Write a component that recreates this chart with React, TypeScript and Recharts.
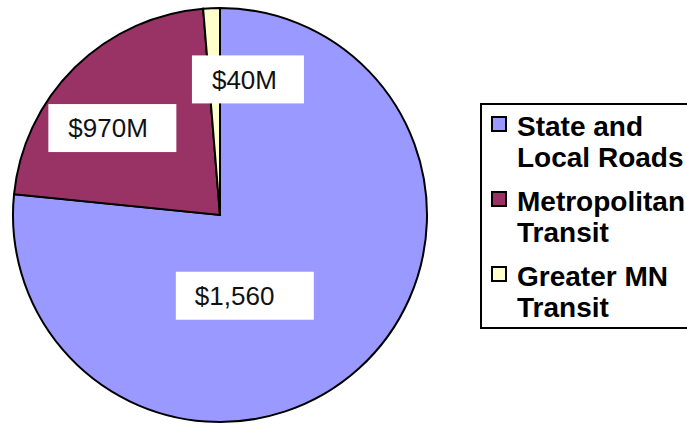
import React from "react";
import { PieChart, Pie, Cell, Legend } from "recharts";

// Categories and values (slice shares, % of total)
const categories = ["State and Local Roads", "Metropolitan Transit", "Greater MN Transit"];
const sliceShare = [76.6, 22.1, 1.3];
const valueLabels = ["$1,560", "$970M", "$40M"];

// styles (kept apart from data)
const colors = ["#9999FF", "#993366", "#FFFFCC"];
// label box centre offsets, in units of the pie radius
const labelOffsets = [
  { dx: 0.12, dy: 0.39, w: 138, textLeft: 19 },
  { dx: -0.52, dy: -0.42, w: 128, textLeft: 20 },
  { dx: 0.135, dy: -0.655, w: 112, textLeft: 20 },
];

const data = categories.map((name, i) => ({ name, value: sliceShare[i], label: valueLabels[i] }));

const renderLabel = (props: any) => {
  const { cx, cy, outerRadius, index } = props;
  const o = labelOffsets[index];
  const bx = cx + o.dx * outerRadius;
  const by = cy + o.dy * outerRadius;
  const h = 48;
  return (
    <g key={`lbl-${index}`}>
      <rect x={bx - o.w / 2} y={by - h / 2} width={o.w} height={h} fill="#FFFFFF" />
      <text
        x={bx - o.w / 2 + o.textLeft}
        y={by}
        dy="0.35em"
        fill="#111"
        fontSize={26}
        fontFamily="'Liberation Sans', Arial, sans-serif"
        textAnchor="start"
      >
        {valueLabels[index]}
      </text>
    </g>
  );
};

const LegendContent = () => (
  <div
    style={{
      border: "2px solid #000",
      background: "#fff",
      width: 240,
      boxSizing: "border-box",
      padding: "6px 0 4px 9px",
      fontFamily: "'Liberation Sans', Arial, sans-serif",
      fontWeight: "bold",
      fontSize: 28,
      lineHeight: "31px",
      color: "#000",
    }}
  >
    {categories.map((c, i) => (
      <div key={c} style={{ display: "flex", alignItems: "flex-start", marginTop: i === 0 ? 0 : 13 }}>
        <div
          style={{
            width: 16,
            height: 16,
            boxSizing: "border-box",
            border: "2px solid #000",
            background: colors[i],
            marginTop: 5,
            marginRight: 10,
            flex: "0 0 auto",
          }}
        />
        <div style={{ width: 172 }}>{c}</div>
      </div>
    ))}
  </div>
);

export default function App() {
  return (
    <div style={{ position: "absolute", left: 0, top: 0, width: 687, height: 425, overflow: "hidden", background: "#fff" }}>
      <PieChart width={687} height={425} margin={{ top: 0, right: 0, bottom: 0, left: 0 }}>
        <Pie
          data={data}
          dataKey="value"
          nameKey="name"
          cx={220}
          cy={215}
          outerRadius={207}
          startAngle={90}
          endAngle={-270}
          stroke="#000"
          strokeWidth={2}
          label={renderLabel}
          labelLine={false}
          isAnimationActive={false}
        >
          {data.map((d, i) => (
            <Cell key={d.name} fill={colors[i]} stroke="#000" strokeWidth={2} />
          ))}
        </Pie>
        <Legend
          layout="vertical"
          align="right"
          verticalAlign="top"
          content={<LegendContent />}
          wrapperStyle={{ position: "absolute", left: 480, top: 103, width: 240 }}
        />
      </PieChart>
    </div>
  );
}
